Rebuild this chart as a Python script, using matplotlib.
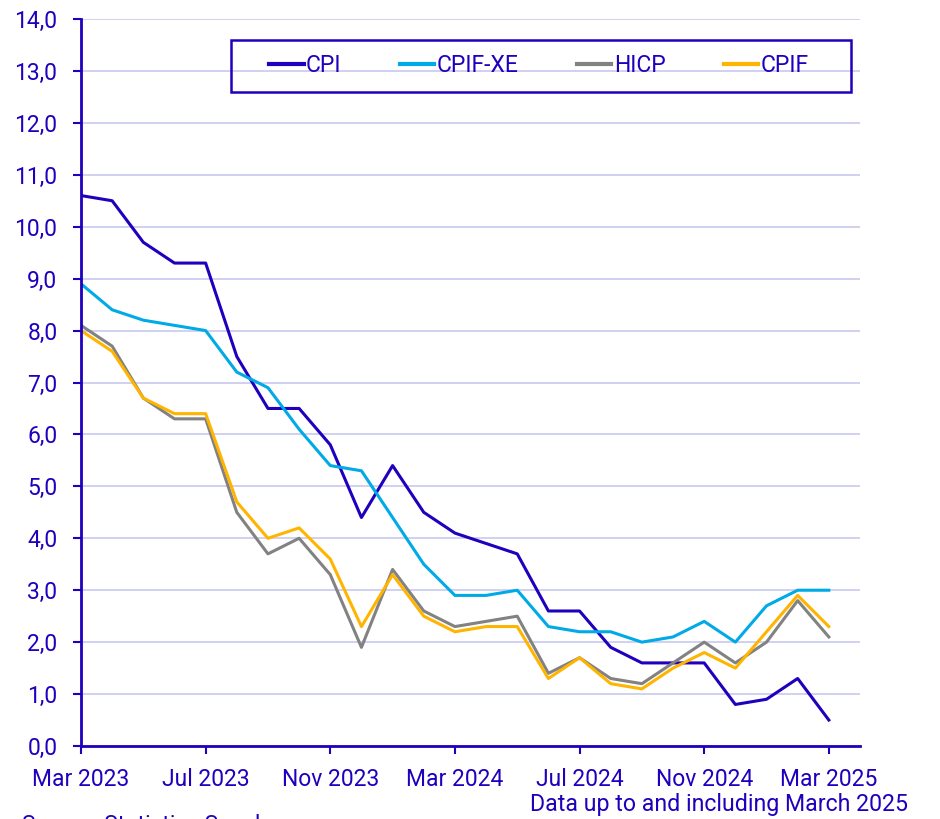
import matplotlib
matplotlib.use("Agg")
import matplotlib.pyplot as plt
from matplotlib.patches import Rectangle
from matplotlib.ticker import FuncFormatter, MultipleLocator

plt.rcParams['font.family'] = ['Roboto', 'DejaVu Sans']

# monthly data, Mar 2023 - Mar 2025
months = ['Mar 2023', 'Apr 2023', 'May 2023', 'Jun 2023', 'Jul 2023', 'Aug 2023',
          'Sep 2023', 'Oct 2023', 'Nov 2023', 'Dec 2023', 'Jan 2024', 'Feb 2024',
          'Mar 2024', 'Apr 2024', 'May 2024', 'Jun 2024', 'Jul 2024', 'Aug 2024',
          'Sep 2024', 'Oct 2024', 'Nov 2024', 'Dec 2024', 'Jan 2025', 'Feb 2025',
          'Mar 2025']
cpi = [10.6, 10.5, 9.7, 9.3, 9.3, 7.5, 6.5, 6.5, 5.8, 4.4, 5.4, 4.5, 4.1, 3.9,
       3.7, 2.6, 2.6, 1.9, 1.6, 1.6, 1.6, 0.8, 0.9, 1.3, 0.5]
cpif_xe = [8.9, 8.4, 8.2, 8.1, 8.0, 7.2, 6.9, 6.1, 5.4, 5.3, 4.4, 3.5, 2.9, 2.9,
           3.0, 2.3, 2.2, 2.2, 2.0, 2.1, 2.4, 2.0, 2.7, 3.0, 3.0]
hicp = [8.1, 7.7, 6.7, 6.3, 6.3, 4.5, 3.7, 4.0, 3.3, 1.9, 3.4, 2.6, 2.3, 2.4,
        2.5, 1.4, 1.7, 1.3, 1.2, 1.6, 2.0, 1.6, 2.0, 2.8, 2.1]
cpif = [8.0, 7.6, 6.7, 6.4, 6.4, 4.7, 4.0, 4.2, 3.6, 2.3, 3.3, 2.5, 2.2, 2.3,
        2.3, 1.3, 1.7, 1.2, 1.1, 1.5, 1.8, 1.5, 2.2, 2.9, 2.3]

navy = '#1E00BE'
fs = 16.5
x = list(range(len(months)))

fig = plt.figure(figsize=(9.4, 8.19), dpi=100)
ax = fig.add_axes([81/940, 1-746/819, (860-81)/940, (746-19)/819])

ax.plot(x, cpi, color=navy, lw=2.2, label='CPI')
ax.plot(x, cpif_xe, color='#00AAE6', lw=2.2, label='CPIF-XE')
ax.plot(x, hicp, color='#828282', lw=2.2, label='HICP')
ax.plot(x, cpif, color='#FFB400', lw=2.2, label='CPIF')

ax.set_xlim(0, 25)
ax.set_ylim(0, 14)
ax.yaxis.set_major_locator(MultipleLocator(1))
ax.yaxis.set_major_formatter(FuncFormatter(lambda v, p: f'{v:.1f}'.replace('.', ',')))
ax.set_xticks(x[::4])
ax.set_xticklabels(months[::4])

ax.grid(axis='y', color='#C8C8F0', lw=1.2)
ax.set_axisbelow(True)
for s in ['top', 'right']:
    ax.spines[s].set_visible(False)
for s in ['left', 'bottom']:
    ax.spines[s].set_color(navy)
    ax.spines[s].set_linewidth(2)
ax.tick_params(colors=navy, labelsize=fs, width=1.5, length=6)
ax.tick_params(axis='x', pad=10)
ax.tick_params(axis='y', pad=11)

# legend box drawn separately, entries centred inside it
fig.patches.append(Rectangle((231/940, 1-92/819), 620/940, 52/819,
                             transform=fig.transFigure, fill=False,
                             edgecolor=navy, lw=1.8))
leg = ax.legend(ncol=4, loc='center', bbox_to_anchor=(539/940, 1-66/819),
                bbox_transform=fig.transFigure, fontsize=fs, frameon=False,
                handlelength=1.5, handletextpad=0.1, columnspacing=2.55,
                borderpad=0, borderaxespad=0)
for t in leg.get_texts():
    t.set_color(navy)
for h in leg.get_lines():
    h.set_linewidth(3)

fig.text(908/940, 1-804/819, 'Data up to and including March 2025', ha='right',
         va='center', color=navy, fontsize=16.7)
fig.text(22/940, 1-814/819, 'Source: Statistics Sweden', ha='left', va='top',
         color=navy, fontsize=fs)

fig.savefig('out.png', dpi=100)
